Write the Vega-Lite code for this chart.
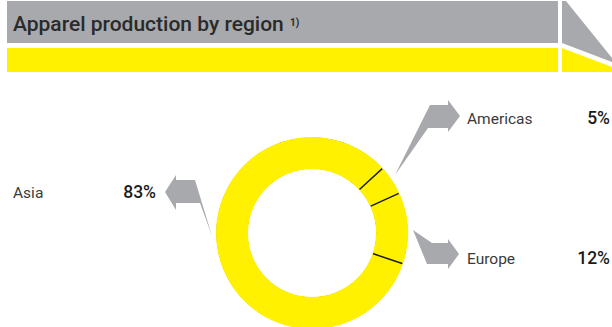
{
  "$schema": "https://vega.github.io/schema/vega-lite/v6.json",
  "width": 612,
  "height": 327,
  "padding": 0,
  "autosize": "none",
  "background": "white",
  "config": {"view": {"stroke": null}},
  "data": {"values": [
    {"region": "Asia", "share": 0.83},
    {"region": "Americas", "share": 0.05},
    {"region": "Europe", "share": 0.12}
  ]},
  "layer": [
    {
      "data": {"values": [{}]},
      "mark": {"type": "point", "shape": "M7,1H558V43H7Z M562,1H566L612,58V62L562,43Z", "size": 4, "filled": true, "fill": "#a7a9ac", "strokeWidth": 0, "opacity": 1},
      "encoding": {
        "x": {"datum": 0, "type": "quantitative", "scale": {"domain": [0, 612], "nice": false, "zero": false}, "axis": null},
        "y": {"datum": 0, "type": "quantitative", "scale": {"domain": [0, 327], "nice": false, "zero": false, "reverse": true}, "axis": null}
      }
    },
    {
      "data": {"values": [{}]},
      "mark": {"type": "point", "shape": "M7,48H558V72H7Z M562,48L612,67V72H562Z", "size": 4, "filled": true, "fill": "#fff100", "strokeWidth": 0, "opacity": 1},
      "encoding": {
        "x": {"datum": 0, "type": "quantitative", "scale": {"domain": [0, 612], "nice": false, "zero": false}, "axis": null},
        "y": {"datum": 0, "type": "quantitative", "scale": {"domain": [0, 327], "nice": false, "zero": false, "reverse": true}, "axis": null}
      }
    },
    {
      "data": {"values": [{}]},
      "mark": {"type": "point", "shape": "M165,192L176,175L176,180L195,180L212,236L200,203L176,203L176,210Z M460,116L448,100L448,105L430,105L395,175L428,128L448,128L448,132Z M413,230L432,243L448,243L448,239L459,254L448,269L448,264L427,264Z", "size": 4, "filled": true, "fill": "#a7a9ac", "strokeWidth": 0, "opacity": 1},
      "encoding": {
        "x": {"datum": 0, "type": "quantitative", "scale": {"domain": [0, 612], "nice": false, "zero": false}, "axis": null},
        "y": {"datum": 0, "type": "quantitative", "scale": {"domain": [0, 327], "nice": false, "zero": false, "reverse": true}, "axis": null}
      }
    },
    {
      "data": {"values": [{}]},
      "mark": {"type": "arc", "radius": 95.5, "radius2": 64.5, "theta": 0, "theta2": 6.2832, "fill": "#1a1a1a"},
      "encoding": {
        "x": {"datum": 312, "type": "quantitative", "scale": {"domain": [0, 612], "nice": false, "zero": false}, "axis": null},
        "y": {"datum": 233, "type": "quantitative", "scale": {"domain": [0, 327], "nice": false, "zero": false, "reverse": true}, "axis": null}
      }
    },
    {
      "mark": {"type": "arc", "radius": 96, "radius2": 64, "padAngle": 0.012, "fill": "#fff100"},
      "encoding": {
        "theta": {"field": "share", "type": "quantitative", "stack": true, "scale": {"range": [0.829, 7.112]}},
        "order": {"field": "share", "type": "quantitative", "sort": "ascending"},
        "x": {"datum": 312, "type": "quantitative", "scale": {"domain": [0, 612], "nice": false, "zero": false}, "axis": null},
        "y": {"datum": 233, "type": "quantitative", "scale": {"domain": [0, 327], "nice": false, "zero": false, "reverse": true}, "axis": null}
      }
    },
    {
      "data": {"values": [{}]},
      "mark": {"type": "text", "align": "left", "baseline": "alphabetic", "font": "Roboto", "fontSize": 21, "fontWeight": 500, "fill": "#2a2a2a"},
      "encoding": {
        "text": {"value": "Apparel production by region"},
        "x": {"datum": 13, "type": "quantitative", "scale": {"domain": [0, 612], "nice": false, "zero": false}, "axis": null},
        "y": {"datum": 31, "type": "quantitative", "scale": {"domain": [0, 327], "nice": false, "zero": false, "reverse": true}, "axis": null}
      }
    },
    {
      "data": {"values": [{}]},
      "mark": {"type": "text", "align": "left", "baseline": "alphabetic", "font": "Roboto", "fontSize": 10, "fontWeight": "bold", "fill": "#2a2a2a"},
      "encoding": {
        "text": {"value": "1)"},
        "x": {"datum": 290, "type": "quantitative", "scale": {"domain": [0, 612], "nice": false, "zero": false}, "axis": null},
        "y": {"datum": 26, "type": "quantitative", "scale": {"domain": [0, 327], "nice": false, "zero": false, "reverse": true}, "axis": null}
      }
    },
    {
      "transform": [{"filter": "datum.region === 'Asia'"}],
      "mark": {"type": "text", "align": "left", "baseline": "alphabetic", "font": "Roboto", "fontSize": 15.5, "fill": "#3a3a3a"},
      "encoding": {
        "text": {"field": "region"},
        "x": {"datum": 13, "type": "quantitative", "scale": {"domain": [0, 612], "nice": false, "zero": false}, "axis": null},
        "y": {"datum": 198, "type": "quantitative", "scale": {"domain": [0, 327], "nice": false, "zero": false, "reverse": true}, "axis": null}
      }
    },
    {
      "transform": [{"filter": "datum.region === 'Asia'"}],
      "mark": {"type": "text", "align": "right", "baseline": "alphabetic", "font": "Roboto", "fontSize": 17.5, "fontWeight": 500, "fill": "#1a1a1a"},
      "encoding": {
        "text": {"field": "share", "type": "quantitative", "format": ".0%"},
        "x": {"datum": 156, "type": "quantitative", "scale": {"domain": [0, 612], "nice": false, "zero": false}, "axis": null},
        "y": {"datum": 198, "type": "quantitative", "scale": {"domain": [0, 327], "nice": false, "zero": false, "reverse": true}, "axis": null}
      }
    },
    {
      "transform": [{"filter": "datum.region === 'Americas'"}],
      "mark": {"type": "text", "align": "left", "baseline": "alphabetic", "font": "Roboto", "fontSize": 15.5, "fill": "#3a3a3a"},
      "encoding": {
        "text": {"field": "region"},
        "x": {"datum": 467, "type": "quantitative", "scale": {"domain": [0, 612], "nice": false, "zero": false}, "axis": null},
        "y": {"datum": 124, "type": "quantitative", "scale": {"domain": [0, 327], "nice": false, "zero": false, "reverse": true}, "axis": null}
      }
    },
    {
      "transform": [{"filter": "datum.region === 'Americas'"}],
      "mark": {"type": "text", "align": "right", "baseline": "alphabetic", "font": "Roboto", "fontSize": 17.5, "fontWeight": 500, "fill": "#1a1a1a"},
      "encoding": {
        "text": {"field": "share", "type": "quantitative", "format": ".0%"},
        "x": {"datum": 610, "type": "quantitative", "scale": {"domain": [0, 612], "nice": false, "zero": false}, "axis": null},
        "y": {"datum": 124, "type": "quantitative", "scale": {"domain": [0, 327], "nice": false, "zero": false, "reverse": true}, "axis": null}
      }
    },
    {
      "transform": [{"filter": "datum.region === 'Europe'"}],
      "mark": {"type": "text", "align": "left", "baseline": "alphabetic", "font": "Roboto", "fontSize": 15.5, "fill": "#3a3a3a"},
      "encoding": {
        "text": {"field": "region"},
        "x": {"datum": 467, "type": "quantitative", "scale": {"domain": [0, 612], "nice": false, "zero": false}, "axis": null},
        "y": {"datum": 264, "type": "quantitative", "scale": {"domain": [0, 327], "nice": false, "zero": false, "reverse": true}, "axis": null}
      }
    },
    {
      "transform": [{"filter": "datum.region === 'Europe'"}],
      "mark": {"type": "text", "align": "right", "baseline": "alphabetic", "font": "Roboto", "fontSize": 17.5, "fontWeight": 500, "fill": "#1a1a1a"},
      "encoding": {
        "text": {"field": "share", "type": "quantitative", "format": ".0%"},
        "x": {"datum": 610, "type": "quantitative", "scale": {"domain": [0, 612], "nice": false, "zero": false}, "axis": null},
        "y": {"datum": 264, "type": "quantitative", "scale": {"domain": [0, 327], "nice": false, "zero": false, "reverse": true}, "axis": null}
      }
    }
  ]
}
